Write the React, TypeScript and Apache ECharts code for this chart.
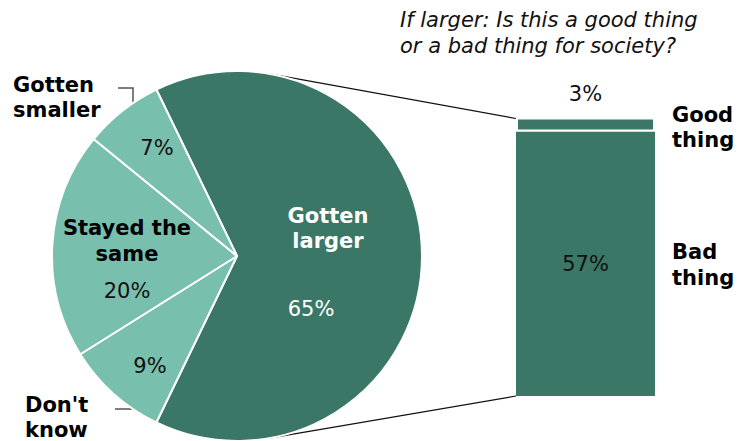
import React, { useEffect, useRef } from 'react';
import * as echarts from 'echarts';

// ---- data ----
const pieCategories = ['Gotten larger', "Don't know", 'Stayed the same', 'Gotten smaller'];
const pieLabelText = ['Gotten\nlarger', "Don't\nknow", 'Stayed the\nsame', 'Gotten\nsmaller'];
const pieValues = [65, 9, 20, 7];
const barCategories = ['Bad thing', 'Good thing'];
const barLabelText = ['Bad\nthing', 'Good\nthing'];
const barValues = [57, 3];
const titleLines = ['If larger: Is this a good thing', 'or a bad thing for society?'];

// ---- layout / style ----
const W = 738;
const H = 441;
const CX = 237;
const CY = 256;
const R = 185;
const BAR_L = 516;
const BAR_W = 139;
const BAR_TOP = 117.5;
const BAR_H = 278.5;
const BAR_MAX = 60;
const FONT = '"DejaVu Sans", Verdana, sans-serif';
const FS = 21;
const DARK = '#3a7767';
const LIGHT = '#79bfae';

function tangentPoint(px: number, py: number, upper: boolean) {
  const dx = px - CX;
  const dy = py - CY;
  const d = Math.sqrt(dx * dx + dy * dy);
  const base = Math.atan2(dy, dx);
  const off = Math.acos(R / d);
  const a = upper ? base - off : base + off;
  return [CX + R * Math.cos(a), CY + R * Math.sin(a)];
}

export default function App() {
  const ref = useRef<HTMLDivElement>(null);
  useEffect(() => {
    if (!ref.current) return;
    const chart = echarts.init(ref.current, null, { renderer: 'svg' });
    const total = pieValues.reduce((a, b) => a + b, 0);
    const darkSpan = (360 * pieValues[0]) / total;
    const startAngle = darkSpan / 2;

    const labelPos: Record<number, [number, number]> = {
      0: [328, 284],
      1: [150, 366],
      2: [127, 265],
      3: [157, 148],
    };

    const barTopY = BAR_TOP + 1;
    const barBottomY = BAR_TOP + BAR_H - ((BAR_MAX - barValues[0] - barValues[1]) / BAR_MAX) * BAR_H;
    const t1 = tangentPoint(BAR_L + 1, barTopY, true);
    const t2 = tangentPoint(BAR_L + 1, barBottomY, false);

    const option: any = {
      animation: false,
      textStyle: { fontFamily: FONT },
      grid: { left: BAR_L, top: BAR_TOP, width: BAR_W, height: BAR_H },
      xAxis: { type: 'category', data: ['x'], show: false },
      yAxis: { type: 'value', min: 0, max: BAR_MAX, show: false },
      series: [
        {
          type: 'pie',
          center: [CX, CY],
          radius: R,
          startAngle,
          clockwise: true,
          silent: true,
          itemStyle: { borderColor: '#fff', borderWidth: 2 },
          data: pieCategories.map((name, i) => ({
            name,
            value: pieValues[i],
            itemStyle: { color: i === 0 ? DARK : LIGHT },
          })),
          label: {
            show: true,
            position: 'inside',
            fontFamily: FONT,
            formatter: (p: any) => {
              const i = p.dataIndex;
              const pct = `${pieValues[i]}%`;
              if (i === 0) {
                return pieLabelText[0].split('\n').map((s) => `{w|${s}}`).join('\n') + `\n{p|${pct}}`;
              }
              if (i === 2) {
                return pieLabelText[2].split('\n').map((s) => `{b|${s}}`).join('\n') + `\n{v|${pct}}`;
              }
              return `{n|${pct}}`;
            },
            rich: {
              w: { fontFamily: FONT, fontSize: FS, fontWeight: 'bold', color: '#fff', lineHeight: 25 },
              p: { fontFamily: FONT, fontSize: FS, color: '#fff', lineHeight: 111, padding: [0, 34, 0, 0] },
              b: { fontFamily: FONT, fontSize: FS, fontWeight: 'bold', color: '#000', lineHeight: 26 },
              v: { fontFamily: FONT, fontSize: FS, color: '#111', lineHeight: 48 },
              n: { fontFamily: FONT, fontSize: FS, color: '#111', lineHeight: 24 },
            },
          },
          labelLine: { show: false },
          labelLayout: (params: any) => {
            const pos = labelPos[params.dataIndex];
            return { x: pos[0], y: pos[1], align: 'center', verticalAlign: 'middle' };
          },
        },
        {
          type: 'bar',
          name: barCategories[0],
          stack: 'a',
          barWidth: '100%',
          silent: true,
          data: [barValues[0]],
          itemStyle: { color: DARK },
          label: {
            show: true,
            position: 'inside',
            formatter: `${barValues[0]}%`,
            fontFamily: FONT,
            fontSize: FS,
            color: '#111',
          },
        },
        {
          type: 'bar',
          name: barCategories[1],
          stack: 'a',
          barWidth: '100%',
          silent: true,
          data: [barValues[1]],
          itemStyle: { color: DARK, borderColor: '#fff', borderWidth: 2 },
          label: {
            show: true,
            position: 'top',
            distance: 13,
            formatter: `${barValues[1]}%`,
            fontFamily: FONT,
            fontSize: FS,
            color: '#111',
          },
        },
      ],
      graphic: [
        {
          type: 'text',
          x: 400,
          y: 7,
          style: {
            text: titleLines.join('\n'),
            font: `italic ${FS}px ${FONT}`,
            fill: '#111',
            lineHeight: 26,
            textAlign: 'left',
            textVerticalAlign: 'top',
          },
        },
        {
          type: 'text',
          x: 13,
          y: 72.5,
          style: {
            text: pieLabelText[3],
            font: `bold ${FS}px ${FONT}`,
            fill: '#000',
            lineHeight: 25,
            textAlign: 'left',
            textVerticalAlign: 'top',
          },
        },
        {
          type: 'text',
          x: 25,
          y: 392.5,
          style: {
            text: pieLabelText[1],
            font: `bold ${FS}px ${FONT}`,
            fill: '#000',
            lineHeight: 25,
            textAlign: 'left',
            textVerticalAlign: 'top',
          },
        },
        {
          type: 'text',
          x: 672,
          y: 102.5,
          style: {
            text: barLabelText[1],
            font: `bold ${FS}px ${FONT}`,
            fill: '#000',
            lineHeight: 25,
            textAlign: 'left',
            textVerticalAlign: 'top',
          },
        },
        {
          type: 'text',
          x: 672,
          y: 238.5,
          style: {
            text: barLabelText[0],
            font: `bold ${FS}px ${FONT}`,
            fill: '#000',
            lineHeight: 26,
            textAlign: 'left',
            textVerticalAlign: 'top',
          },
        },
        {
          type: 'polyline',
          shape: { points: [[118, 88], [133, 88], [133, 123]] },
          style: { stroke: '#555', lineWidth: 1.5, fill: null },
        },
        {
          type: 'polyline',
          shape: { points: [[115, 409], [142, 409], [142, 392]] },
          style: { stroke: '#555', lineWidth: 1.5, fill: null },
        },
        {
          type: 'line',
          shape: { x1: t1[0], y1: t1[1], x2: BAR_L, y2: barTopY },
          style: { stroke: '#111', lineWidth: 1.2 },
        },
        {
          type: 'line',
          shape: { x1: t2[0], y1: t2[1], x2: BAR_L, y2: barBottomY },
          style: { stroke: '#111', lineWidth: 1.2 },
        },
      ],
    };
    chart.setOption(option);
    return () => chart.dispose();
  }, []);
  return (
    <div
      ref={ref}
      style={{ position: 'fixed', left: 0, top: 0, width: W, height: H, background: '#fff' }}
    />
  );
}
